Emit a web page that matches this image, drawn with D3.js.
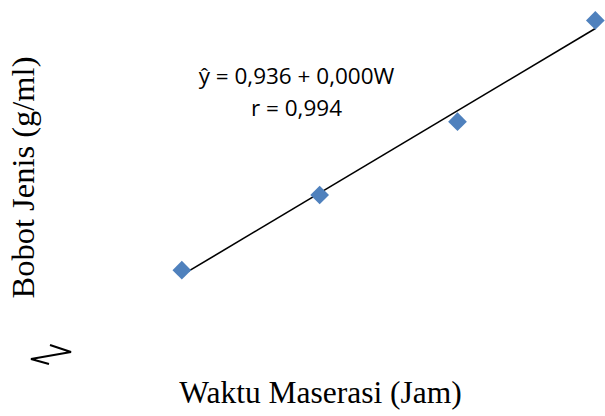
<!DOCTYPE html>
<html>
<head>
<meta charset="utf-8">
<script src="https://cdn.jsdelivr.net/npm/d3@7"></script>
<style>
  html, body { margin: 0; padding: 0; background: #fff; }
  svg { display: block; }
</style>
</head>
<body>
<svg id="chart" width="605" height="416"></svg>
<script>
// Maceration time (hours) and specific gravity (g/ml)
const waktu = [24, 48, 72, 96];
const bobotJenis = [0.93700, 0.93781, 0.93860, 0.93969];
const persamaan = ["ŷ = 0,936 + 0,000W", "r = 0,994"];
const judulX = "Waktu Maserasi (Jam)";
const judulY = "Bobot Jenis (g/ml)";

const svg = d3.select("#chart");

const x = d3.scaleLinear().domain([0, 100]).range([44, 618.3]);
const y = d3.scaleLinear().domain([0.936, 0.940]).range([363, -8.3]);

// least-squares trendline
const mx = d3.mean(waktu), my = d3.mean(bobotJenis);
const slope = d3.sum(waktu, (d, i) => (d - mx) * (bobotJenis[i] - my)) /
              d3.sum(waktu, d => (d - mx) * (d - mx));
const intercept = my - slope * mx;
const xr = d3.extent(waktu);

svg.append("path")
  .datum(xr)
  .attr("fill", "none")
  .attr("stroke", "#000")
  .attr("stroke-width", 1.6)
  .attr("d", d3.line().x(d => x(d)).y(d => y(intercept + slope * d)));

// data markers (diamonds)
const sym = d3.symbol().type(d3.symbolSquare).size(175);
svg.selectAll("path.pt")
  .data(waktu.map((w, i) => [w, bobotJenis[i]]))
  .join("path")
  .attr("class", "pt")
  .attr("d", sym)
  .attr("transform", d => `translate(${x(d[0])},${y(d[1])}) rotate(45)`)
  .attr("fill", "#4F81BD");

// regression equation
svg.append("text")
  .attr("y", 83.5)
  .attr("text-anchor", "middle")
  .attr("font-family", "Open Sans, sans-serif")
  .attr("font-size", 22.5)
  .attr("fill", "#000")
  .selectAll("tspan")
  .data(persamaan)
  .join("tspan")
  .attr("x", 296.5)
  .attr("dy", (d, i) => i === 0 ? 0 : 32.4)
  .text(d => d);

// axis titles
svg.append("text")
  .attr("x", 320.5).attr("y", 403)
  .attr("text-anchor", "middle")
  .attr("font-family", "Liberation Serif, Times New Roman, serif")
  .attr("font-size", 31.5)
  .text(judulX);

svg.append("text")
  .attr("transform", "translate(34,177.5) rotate(-90)")
  .attr("text-anchor", "middle")
  .attr("font-family", "Liberation Serif, Times New Roman, serif")
  .attr("font-size", 32.5)
  .text(judulY);

// axis break mark
svg.append("path")
  .attr("d", d3.line()([[50, 345], [71, 352], [31, 359], [49, 364]]))
  .attr("fill", "none")
  .attr("stroke", "#000")
  .attr("stroke-width", 2);
</script>
</body>
</html>
